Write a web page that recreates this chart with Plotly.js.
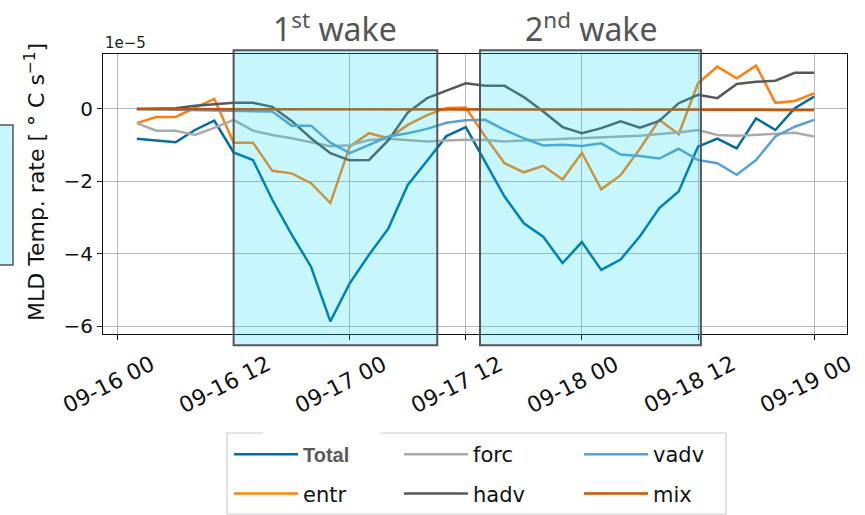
<!DOCTYPE html>
<html>
<head>
<meta charset="utf-8">
<script src="https://cdn.plot.ly/plotly-3.0.1.min.js"></script>
<style>html,body{margin:0;padding:0;background:#fff;}#chart{width:865px;height:515px;}</style>
</head>
<body>
<div id="chart"></div>
<script>
// time stamps (2-hourly)
const times = [
  '2023-09-16 02:00','2023-09-16 04:00','2023-09-16 06:00','2023-09-16 08:00','2023-09-16 10:00','2023-09-16 12:00',
  '2023-09-16 14:00','2023-09-16 16:00','2023-09-16 18:00','2023-09-16 20:00','2023-09-16 22:00',
  '2023-09-17 00:00','2023-09-17 02:00','2023-09-17 04:00','2023-09-17 06:00','2023-09-17 08:00','2023-09-17 10:00',
  '2023-09-17 12:00','2023-09-17 14:00','2023-09-17 16:00','2023-09-17 18:00','2023-09-17 20:00','2023-09-17 22:00',
  '2023-09-18 00:00','2023-09-18 02:00','2023-09-18 04:00','2023-09-18 06:00','2023-09-18 08:00','2023-09-18 10:00',
  '2023-09-18 12:00','2023-09-18 14:00','2023-09-18 16:00','2023-09-18 18:00','2023-09-18 20:00','2023-09-18 22:00',
  '2023-09-19 00:00'
];
// values in units of 1e-5 °C/s
const total = [-0.82,-0.88,-0.92,-0.58,-0.32,-1.20,-1.41,-2.51,-3.47,-4.36,-5.87,
  -4.82,-4.03,-3.30,-2.10,-1.43,-0.75,-0.50,-1.45,-2.42,-3.16,-3.53,-4.26,
  -3.68,-4.45,-4.16,-3.52,-2.74,-2.28,-1.04,-0.82,-1.09,-0.26,-0.58,0.02,0.34];
const entr = [-0.39,-0.22,-0.22,0.03,0.28,-0.93,-0.93,-1.71,-1.78,-2.05,-2.60,
  -1.04,-0.67,-0.81,-0.44,-0.17,0.03,0.04,-0.76,-1.50,-1.75,-1.57,-1.95,
  -1.21,-2.22,-1.83,-1.10,-0.30,-0.70,0.71,1.17,0.85,1.20,0.17,0.22,0.43];
const forc = [-0.39,-0.60,-0.60,-0.72,-0.52,-0.30,-0.60,-0.72,-0.81,-0.92,-1.03,
  -1.00,-0.86,-0.82,-0.85,-0.90,-0.87,-0.85,-0.86,-0.90,-0.87,-0.85,-0.83,
  -0.80,-0.78,-0.76,-0.74,-0.69,-0.65,-0.58,-0.72,-0.74,-0.72,-0.70,-0.66,-0.76];
const hadv = [0.00,0.00,0.02,0.09,0.13,0.17,0.17,0.06,-0.33,-0.81,-1.22,
  -1.42,-1.41,-0.86,-0.10,0.30,0.51,0.71,0.64,0.64,0.33,-0.07,-0.50,
  -0.67,-0.53,-0.34,-0.52,-0.33,0.16,0.39,0.30,0.69,0.75,0.78,1.00,1.00];
const vadv = [0.00,-0.01,-0.02,-0.04,-0.06,-0.07,-0.07,-0.07,-0.46,-0.46,-0.93,
  -1.22,-0.99,-0.76,-0.67,-0.55,-0.38,-0.31,-0.30,-0.58,-0.81,-1.01,-0.99,
  -1.02,-0.95,-1.26,-1.30,-1.37,-1.10,-1.41,-1.50,-1.82,-1.41,-0.76,-0.49,-0.30];
const mix = [0.00,0.00,0.00,0.00,0.00,0.00,0.00,0.00,0.00,0.00,0.00,
  0.00,0.00,0.00,0.00,0.00,0.00,0.00,0.00,0.00,0.00,0.00,0.00,
  0.00,0.00,0.00,0.00,0.00,0.00,-0.01,-0.01,-0.02,-0.02,-0.03,-0.03,-0.03];

const seriesNames = ['Total','entr','forc','hadv','vadv','mix'];
const legendLabels = ['<b><span style="color:#5a5a5a;font-family:Liberation Sans;font-size:20px">Total</span></b>','entr','forc','hadv','vadv','mix'];
const legendIds = ['legend','legend','legend2','legend2','legend3','legend3'];
const colors = ['#006BA4','#FF800E','#ABABAB','#595959','#5F9ED1','#C85200'];
const seriesData = [total, entr, forc, hadv, vadv, mix];

// wake windows
const wakeStarts = ['2023-09-16 12:00','2023-09-17 13:28'];
const wakeEnds = ['2023-09-17 09:03','2023-09-18 12:18'];
const wakeLabels = ['1<sup>st</sup> wake','2<sup>nd</sup> wake'];
const xTicks = ['2023-09-16 00:00','2023-09-16 12:00','2023-09-17 00:00','2023-09-17 12:00','2023-09-18 00:00','2023-09-18 12:00','2023-09-19 00:00'];
const xTickText = ['09-16 00','09-16 12','09-17 00','09-17 12','09-18 00','09-18 12','09-19 00'];
const yTicks = [-6,-4,-2,0];
const yTickText = ['\u22126','\u22124','\u22122','0'];

const traces = seriesNames.map((n,i)=>({
  x: times, y: seriesData[i], type:'scatter', mode:'lines', name: legendLabels[i],
  line:{color:colors[i], width:2.5}, legend: legendIds[i], legendgroup: n
}));

// pixel -> paper helpers for the area outside the plot
const px = v => (v-103)/744;
const py = v => (334-v)/280;

const shapes = [];
wakeStarts.forEach((s,i)=>{
  shapes.push({type:'rect', xref:'x', yref:'paper', x0:s, x1:wakeEnds[i], y0:-0.04, y1:1.013,
    fillcolor:'rgba(0,218,240,0.22)', line:{color:'#555555', width:2}, layer:'above'});
});
// partial box at the left edge
shapes.push({type:'rect', xref:'paper', yref:'paper', x0:-0.16, x1:-0.121, y0:0.246, y1:0.746,
  fillcolor:'rgba(0,218,240,0.22)', line:{color:'#555555', width:1.5}, layer:'above'});
// legend frame (top edge partly hidden as in the reference)
shapes.push({type:'path', xref:'paper', yref:'paper',
  path:`M ${px(263)},${py(433)} L ${px(227)},${py(433)} L ${px(227)},${py(514)} L ${px(726)},${py(514)} L ${px(726)},${py(433)} L ${px(380)},${py(433)}`,
  line:{color:'#cfcfcf', width:1.2}, layer:'above'});

const annotations = [
  {text:'1e\u22125', xref:'paper', yref:'paper', x:0, y:1.0, xanchor:'left', yanchor:'bottom', showarrow:false,
   font:{family:'DejaVu Sans', size:15, color:'#222'}},
  {text:'MLD Temp. rate [ \u00B0 C s<sup>\u22121</sup>]', xref:'paper', yref:'paper', x:-0.0914, y:0.543,
   textangle:-90, xanchor:'center', yanchor:'middle', showarrow:false, font:{family:'DejaVu Sans', size:22, color:'#111'}}
];
wakeStarts.forEach((s,i)=>{
  annotations.push({text:wakeLabels[i], xref:'paper', yref:'paper', x:[px(335),px(591)][i], y:py(27),
    xanchor:'center', yanchor:'middle', showarrow:false, font:{family:'Noto Sans', size:32, color:'#555555'}});
});
// rotated x tick labels (centred under the ticks, as in the reference)
xTicks.forEach((t,i)=>{
  annotations.push({text:xTickText[i], xref:'x', yref:'paper', x:t, y:py(384), xshift:-9,
    textangle:-27, xanchor:'center', yanchor:'middle', showarrow:false,
    font:{family:'DejaVu Sans', size:22, color:'#111'}});
});

const legendBase = {orientation:'v', xanchor:'left', yanchor:'top', y:py(434),
  bgcolor:'rgba(0,0,0,0)', borderwidth:0, tracegroupgap:9, itemwidth:64,
  font:{family:'DejaVu Sans', size:21, color:'#111'}};

const layout = {
  width:865, height:515,
  margin:{l:103, r:18, t:54, b:181, autoexpand:false},
  paper_bgcolor:'#fff', plot_bgcolor:'#fff',
  font:{family:'DejaVu Sans', color:'#111'},
  xaxis:{type:'date', range:['2023-09-15 22:30','2023-09-19 03:24'],
    tickvals:xTicks, ticktext:xTickText, showticklabels:false,
    showgrid:true, gridcolor:'#b8b8b8', gridwidth:1,
    showline:true, mirror:true, linecolor:'#111', linewidth:1,
    ticks:'outside', ticklen:5, tickcolor:'#111', zeroline:false},
  yaxis:{range:[-6.22,1.52], tickvals:yTicks, ticktext:yTickText,
    tickfont:{family:'DejaVu Sans', size:20, color:'#111'},
    showgrid:true, gridcolor:'#b8b8b8', gridwidth:1,
    showline:true, mirror:true, linecolor:'#111', linewidth:1,
    ticks:'outside', ticklen:5, tickcolor:'#111', zeroline:false},
  showlegend:true,
  legend: Object.assign({}, legendBase, {x:px(229)}),
  legend2: Object.assign({}, legendBase, {x:px(399)}),
  legend3: Object.assign({}, legendBase, {x:px(579)}),
  shapes:shapes, annotations:annotations
};
Plotly.newPlot('chart', traces, layout, {displayModeBar:false, staticPlot:true});
</script>
</body>
</html>
